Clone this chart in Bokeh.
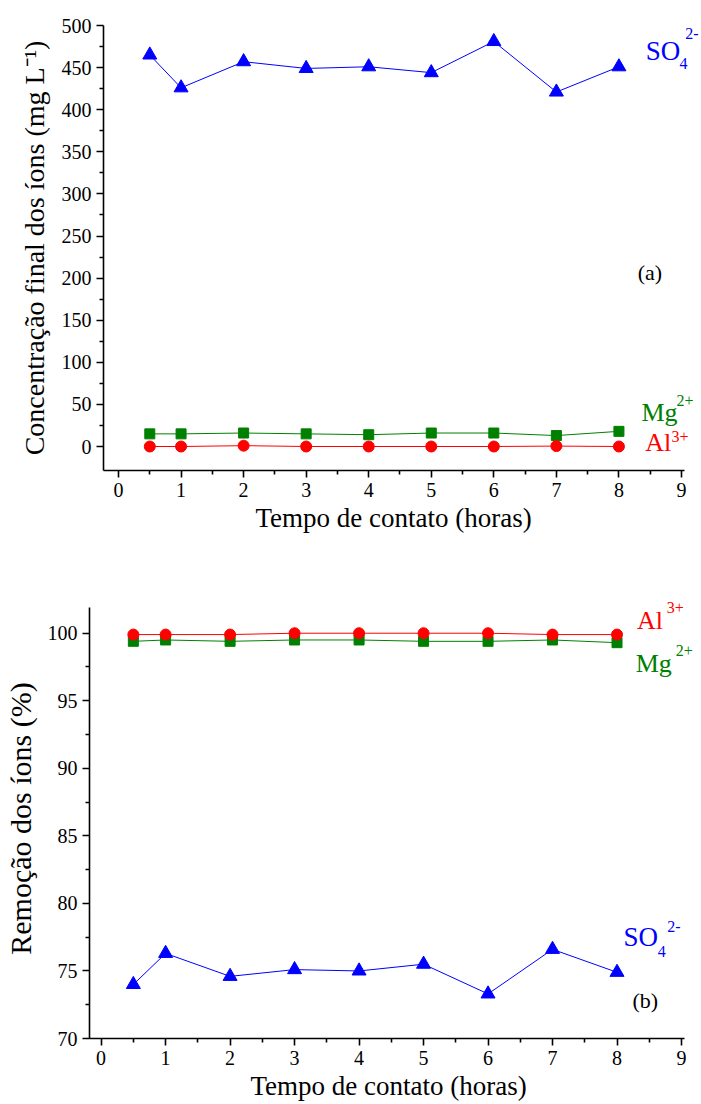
from bokeh.plotting import figure
from bokeh.layouts import column
from bokeh.models import Range1d, FixedTicker, Label, Title
from bokeh.embed import file_html
from bokeh.resources import INLINE

# Contact time (hours)
tempo = [0.5, 1, 2, 3, 4, 5, 6, 7, 8]

# (a) final ion concentration, mg/L
so4_conc = [465, 426, 457, 449, 451, 444, 481, 421, 451]
mg_conc = [15, 15, 16, 15, 14, 16, 16, 13, 18]
al_conc = [0, 0, 1, 0, 0, 0, 0, 0.5, 0]

# (b) ion removal, %
so4_rem = [74.0, 76.3, 74.6, 75.1, 75.0, 75.5, 73.3, 76.6, 74.9]
mg_rem = [99.4, 99.5, 99.4, 99.5, 99.5, 99.4, 99.4, 99.5, 99.3]
al_rem = [99.9, 99.9, 99.9, 100.0, 100.0, 100.0, 100.0, 99.9, 99.9]

x_ticks = list(range(0, 10))
x_minor = [i + 0.5 for i in range(0, 9)]
ya_ticks = list(range(0, 501, 50))
ya_minor = list(range(25, 500, 50))
yb_ticks = list(range(70, 101, 5))
yb_minor = [72.5, 77.5, 82.5, 87.5, 92.5, 97.5]

X_LABEL = "Tempo de contato (horas)"
FONT = "Liberation Serif"
BLUE = "#0000FF"
GREEN = "#008000"
RED = "#FF0000"


def style(p, ylab, ylab_size, ylab_standoff, x_end, y_end, xlab_offset):
    p.xgrid.visible = False
    p.ygrid.visible = False
    p.outline_line_color = None
    p.background_fill_color = "white"
    p.border_fill_color = "white"
    for ax in (p.xaxis[0], p.yaxis[0]):
        ax.axis_line_width = 1.6
        ax.axis_line_color = "black"
        ax.major_tick_line_width = 1.6
        ax.minor_tick_line_width = 1.6
        ax.major_tick_out = 7
        ax.major_tick_in = 0
        ax.minor_tick_out = 4
        ax.minor_tick_in = 0
        ax.major_label_text_font = FONT
        ax.major_label_text_font_size = "20px"
        ax.major_label_text_color = "black"
        ax.axis_label_text_font = FONT
        ax.axis_label_text_font_style = "normal"
        ax.axis_label_text_color = "black"
        ax.major_label_standoff = 5
    p.yaxis[0].axis_label = ylab
    p.yaxis[0].axis_label_text_font_size = ylab_size
    p.yaxis[0].axis_label_standoff = ylab_standoff
    p.xaxis[0].ticker = FixedTicker(ticks=x_ticks, minor_ticks=x_minor)
    # axis lines stop at their last tick; the space beyond holds ion labels
    p.xaxis[0].bounds = (p.x_range.start, x_end)
    p.yaxis[0].bounds = (p.y_range.start, y_end)
    # x label set under the axis itself (not the wider plotting area)
    p.add_layout(Title(text=X_LABEL, align="left", offset=xlab_offset,
                       text_font=FONT, text_font_size="27px",
                       text_font_style="normal", text_color="black",
                       standoff=2), "below")


def add_text(p, x, y, text, color, size, baseline="alphabetic"):
    p.add_layout(Label(x=x, y=y, text=text, text_color=color,
                       text_font=FONT, text_font_size=size,
                       text_baseline=baseline, text_align="left"))


# ---------- panel (a) ----------
pa = figure(width=701, height=560, output_backend="svg", toolbar_location=None,
            x_range=Range1d(-0.24, 9.32), y_range=Range1d(-28.5, 500),
            min_border_left=103, min_border_right=0,
            min_border_top=25, min_border_bottom=90, frame_align=False)
style(pa, "Concentração final dos íons (mg L⁻¹)", "28px", 9, 9.05, 500, 152)
pa.yaxis[0].ticker = FixedTicker(ticks=ya_ticks, minor_ticks=ya_minor)

pa.line(tempo, so4_conc, line_color=BLUE, line_width=1)
pa.scatter(tempo, so4_conc, marker="triangle", size=14, color=BLUE)
pa.line(tempo, mg_conc, line_color=GREEN, line_width=1)
pa.scatter(tempo, mg_conc, marker="square", size=10, color=GREEN)
pa.line(tempo, al_conc, line_color=RED, line_width=1)
pa.scatter(tempo, al_conc, marker="circle", size=11, color=RED)

add_text(pa, 8.43, 470, "SO", BLUE, "27px")
add_text(pa, 8.97, 455, "4", BLUE, "16px")
add_text(pa, 9.06, 491, "2-", BLUE, "16px")
add_text(pa, 8.30, 207, "(a)", "black", "22px", baseline="middle")
add_text(pa, 8.36, 40, "Mg", GREEN, "26px")
add_text(pa, 8.92, 55, "2+", GREEN, "16px")
add_text(pa, 8.42, 4.5, "Al", RED, "26px")
add_text(pa, 8.84, 12, "3+", RED, "16px")

# ---------- panel (b) ----------
pb = figure(width=701, height=544, output_backend="svg", toolbar_location=None,
            x_range=Range1d(-0.18, 9.31), y_range=Range1d(70, 102.57),
            min_border_left=87, min_border_right=0,
            min_border_top=38, min_border_bottom=66, frame_align=False)
style(pb, "Remoção dos íons (%)", "30px", 8, 9.05, 101.9, 161)
pb.yaxis[0].ticker = FixedTicker(ticks=yb_ticks, minor_ticks=yb_minor)

pb.line(tempo, al_rem, line_color=RED, line_width=1)
pb.line(tempo, mg_rem, line_color=GREEN, line_width=1)
pb.scatter(tempo, mg_rem, marker="square", size=10, color=GREEN)
pb.scatter(tempo, al_rem, marker="circle", size=11, color=RED)
pb.line(tempo, so4_rem, line_color=BLUE, line_width=1)
pb.scatter(tempo, so4_rem, marker="triangle", size=14, color=BLUE)

add_text(pb, 8.31, 100.95, "Al", RED, "26px")
add_text(pb, 8.77, 101.9, "3+", RED, "16px")
add_text(pb, 8.29, 97.75, "Mg", GREEN, "26px")
add_text(pb, 8.91, 98.7, "2+", GREEN, "16px")
add_text(pb, 8.10, 77.5, "SO", BLUE, "27px")
add_text(pb, 8.63, 76.45, "4", BLUE, "16px")
add_text(pb, 8.78, 78.3, "2-", BLUE, "16px")
add_text(pb, 8.24, 72.8, "(b)", "black", "22px", baseline="middle")

layout = column(pa, pb, spacing=0)
open("out.html", "w").write(file_html(layout, INLINE))
